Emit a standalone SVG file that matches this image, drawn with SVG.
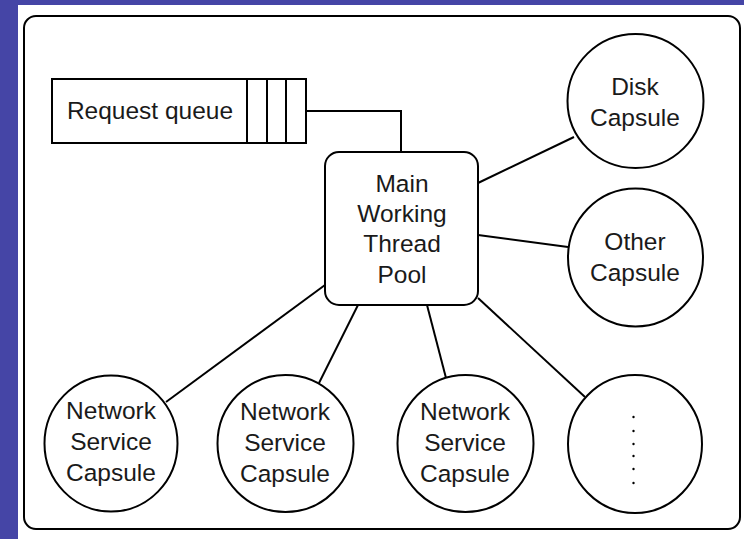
<svg xmlns="http://www.w3.org/2000/svg" width="744" height="539" viewBox="0 0 744 539">
  <style>
    .shape { fill: #ffffff; stroke: #000000; stroke-width: 2; }
    .conn { fill: none; stroke: #000000; stroke-width: 2; }
    .lbl { font-family: "Liberation Sans", Arial, sans-serif; font-size: 24.5px; fill: #1a1a1a; text-anchor: middle; }
    .dot { fill: #000000; }
  </style>
  <rect x="0" y="0" width="744" height="539" fill="#ffffff"/>
  <rect x="0" y="0" width="744" height="5" fill="#4545A6"/>
  <rect x="0" y="0" width="18" height="539" fill="#4545A6"/>

  <g id="frame">
    <rect class="shape" x="24" y="16" width="716" height="513" rx="12" ry="12"/>
  </g>

  <g id="connectors">
    <polyline class="conn" points="306,111 401,111 401,152"/>
    <line class="conn" x1="478" y1="183" x2="574" y2="137"/>
    <line class="conn" x1="478" y1="235" x2="568" y2="247"/>
    <line class="conn" x1="325" y1="285" x2="166" y2="402"/>
    <line class="conn" x1="358" y1="305" x2="319" y2="383"/>
    <line class="conn" x1="427" y1="305" x2="446" y2="378"/>
    <line class="conn" x1="478" y1="298" x2="585" y2="397"/>
  </g>

  <g id="request-queue">
    <rect class="shape" x="52" y="79" width="254" height="64"/>
    <line class="conn" x1="247" y1="79" x2="247" y2="143"/>
    <line class="conn" x1="267" y1="79" x2="267" y2="143"/>
    <line class="conn" x1="286" y1="79" x2="286" y2="143"/>
    <text class="lbl" x="150" y="119">Request queue</text>
  </g>

  <g id="main-pool">
    <rect class="shape" x="325" y="152" width="153" height="153" rx="14" ry="14"/>
    <text class="lbl" x="402" y="192">Main</text>
    <text class="lbl" x="402" y="222">Working</text>
    <text class="lbl" x="402" y="252">Thread</text>
    <text class="lbl" x="402" y="283">Pool</text>
  </g>

  <g id="disk-capsule">
    <ellipse class="shape" cx="635.5" cy="101" rx="68" ry="67"/>
    <text class="lbl" x="635" y="95">Disk</text>
    <text class="lbl" x="635" y="126">Capsule</text>
  </g>

  <g id="other-capsule">
    <ellipse class="shape" cx="635.5" cy="257.5" rx="67.5" ry="69"/>
    <text class="lbl" x="635" y="250">Other</text>
    <text class="lbl" x="635" y="281">Capsule</text>
  </g>

  <g id="network-capsule-1">
    <ellipse class="shape" cx="111" cy="443.5" rx="66.5" ry="68"/>
    <text class="lbl" x="111" y="419">Network</text>
    <text class="lbl" x="111" y="450">Service</text>
    <text class="lbl" x="111" y="481">Capsule</text>
  </g>

  <g id="network-capsule-2">
    <ellipse class="shape" cx="285.5" cy="443.5" rx="68" ry="68.5"/>
    <text class="lbl" x="285" y="420">Network</text>
    <text class="lbl" x="285" y="451">Service</text>
    <text class="lbl" x="285" y="482">Capsule</text>
  </g>

  <g id="network-capsule-3">
    <ellipse class="shape" cx="465.5" cy="443.5" rx="68" ry="68.5"/>
    <text class="lbl" x="465" y="420">Network</text>
    <text class="lbl" x="465" y="451">Service</text>
    <text class="lbl" x="465" y="482">Capsule</text>
  </g>

  <g id="more-capsules">
    <ellipse class="shape" cx="635" cy="444" rx="67" ry="69"/>
    <circle class="dot" cx="633.5" cy="417" r="1.2"/>
    <circle class="dot" cx="633.5" cy="431" r="1.2"/>
    <circle class="dot" cx="633.5" cy="444" r="1.2"/>
    <circle class="dot" cx="633.5" cy="456" r="1.2"/>
    <circle class="dot" cx="633.5" cy="469" r="1.2"/>
    <circle class="dot" cx="633.5" cy="483" r="1.2"/>
  </g>
</svg>
